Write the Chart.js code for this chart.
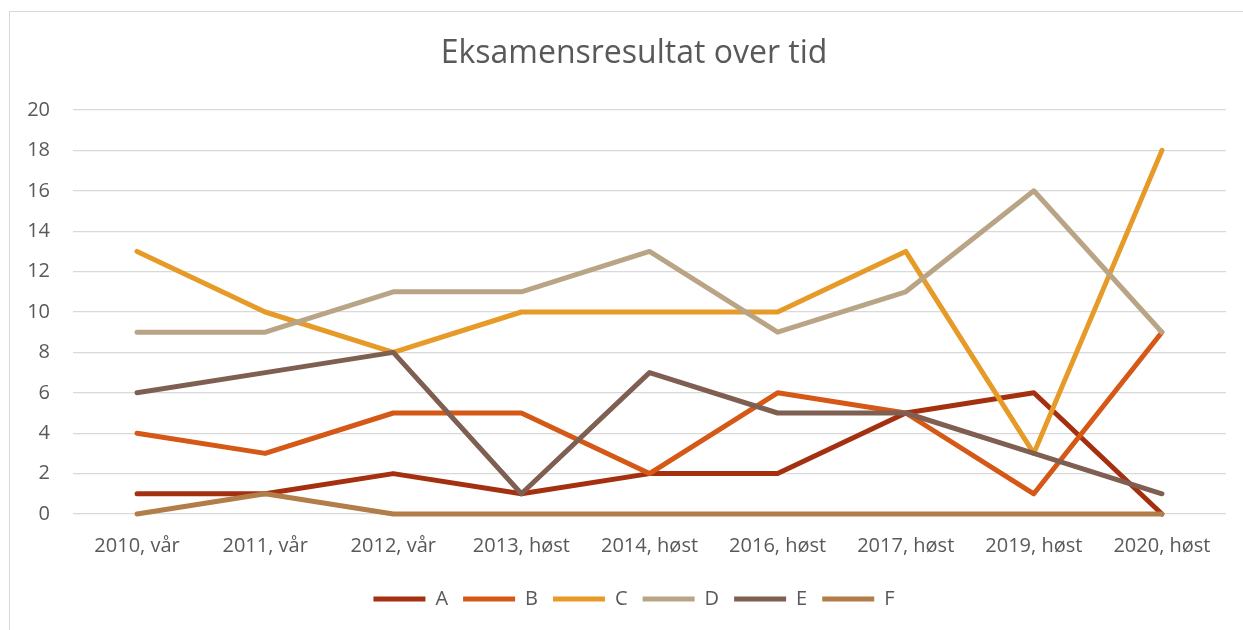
<!DOCTYPE html>
<html lang="no">
<head>
    <meta charset="UTF-8">
    <title>Eksamensresultat over tid</title>
    <script src="https://cdn.jsdelivr.net/npm/chart.js"></script>
    <style>
        body {
            margin: 0;
            background: #ffffff;
            font-family: 'Open Sans', sans-serif;
            overflow: hidden;
        }
        .frame {
            position: absolute;
            left: 9px;
            top: 11px;
            width: 1260px;
            height: 640px;
            border: 1px solid #d9d9d9;
        }
        #chart {
            position: absolute;
            left: 0;
            top: 0;
        }
    </style>
</head>
<body>
    <div class="frame"></div>
    <!-- canvas runs past the window edge so title and legend centre on the frame -->
    <canvas id="chart" width="1268" height="630"></canvas>

<script>
    // Data
    const periods = ['2010, vår', '2011, vår', '2012, vår', '2013, høst', '2014, høst', '2016, høst', '2017, høst', '2019, høst', '2020, høst'];
    const gradeA = [1, 1, 2, 1, 2, 2, 5, 6, 0];
    const gradeB = [4, 3, 5, 5, 2, 6, 5, 1, 9];
    const gradeC = [13, 10, 8, 10, 10, 10, 13, 3, 18];
    const gradeD = [9, 9, 11, 11, 13, 9, 11, 16, 9];
    const gradeE = [6, 7, 8, 1, 7, 5, 5, 3, 1];
    const gradeF = [0, 1, 0, 0, 0, 0, 0, 0, 0];
    const yTicks = [0, 2, 4, 6, 8, 10, 12, 14, 16, 18, 20];

    const series = [
        { label: 'A', data: gradeA, color: '#a5300f' },
        { label: 'B', data: gradeB, color: '#d55816' },
        { label: 'C', data: gradeC, color: '#e69a28' },
        { label: 'D', data: gradeD, color: '#b9a486' },
        { label: 'E', data: gradeE, color: '#7f5f52' },
        { label: 'F', data: gradeF, color: '#b27d49' }
    ];

    const textColor = '#595959';

    new Chart(document.getElementById('chart').getContext('2d'), {
        type: 'line',
        data: {
            labels: periods,
            datasets: series.map((s, i) => ({
                label: s.label,
                data: s.data,
                borderColor: s.color,
                backgroundColor: s.color,
                borderWidth: 5,
                borderCapStyle: 'round',
                borderJoinStyle: 'round',
                pointRadius: 0,
                pointHoverRadius: 0,
                tension: 0,
                clip: 8, // keep the full stroke visible on the 0 line
                // later series on top, like the original
                order: series.length - i
            }))
        },
        options: {
            responsive: false,
            animation: false,
            devicePixelRatio: 1,
            layout: {
                padding: { left: 0, right: 0, top: 0, bottom: 11 }
            },
            plugins: {
                title: {
                    display: true,
                    text: 'Eksamensresultat over tid',
                    color: textColor,
                    font: { family: 'Open Sans', size: 32, weight: 'normal' },
                    padding: { top: 35, bottom: 36.6 }
                },
                legend: {
                    position: 'bottom',
                    labels: {
                        color: textColor,
                        font: { family: 'Open Sans', size: 20 },
                        usePointStyle: true,
                        pointStyle: 'line',
                        pointStyleWidth: 52,
                        padding: 15,
                        sort: (a, b) => a.datasetIndex - b.datasetIndex
                    }
                },
                tooltip: { enabled: false }
            },
            scales: {
                x: {
                    offset: true,
                    afterFit: (scale) => { scale.height = 60; },
                    grid: { display: false, drawTicks: false },
                    border: { display: false },
                    ticks: {
                        color: textColor,
                        font: { family: 'Open Sans', size: 20 },
                        padding: 20,
                        maxRotation: 0,
                        autoSkip: false
                    }
                },
                y: {
                    min: 0,
                    max: 20,
                    afterFit: (scale) => { scale.width = 73; },
                    afterBuildTicks: (scale) => { scale.ticks = yTicks.map(v => ({ value: v })); },
                    grid: { color: '#d9d9d9', lineWidth: 1.3, drawTicks: false },
                    border: { display: false },
                    ticks: {
                        color: textColor,
                        font: { family: 'Open Sans', size: 20 },
                        padding: 23
                    }
                },
                // empty right-hand spacer so the plot ends where the original does
                spacer: {
                    type: 'linear',
                    position: 'right',
                    min: 0,
                    max: 20,
                    afterFit: (scale) => { scale.width = 42; },
                    grid: { display: false, drawTicks: false },
                    border: { display: false },
                    ticks: { display: false }
                }
            }
        }
    });
</script>
</body>
</html>
